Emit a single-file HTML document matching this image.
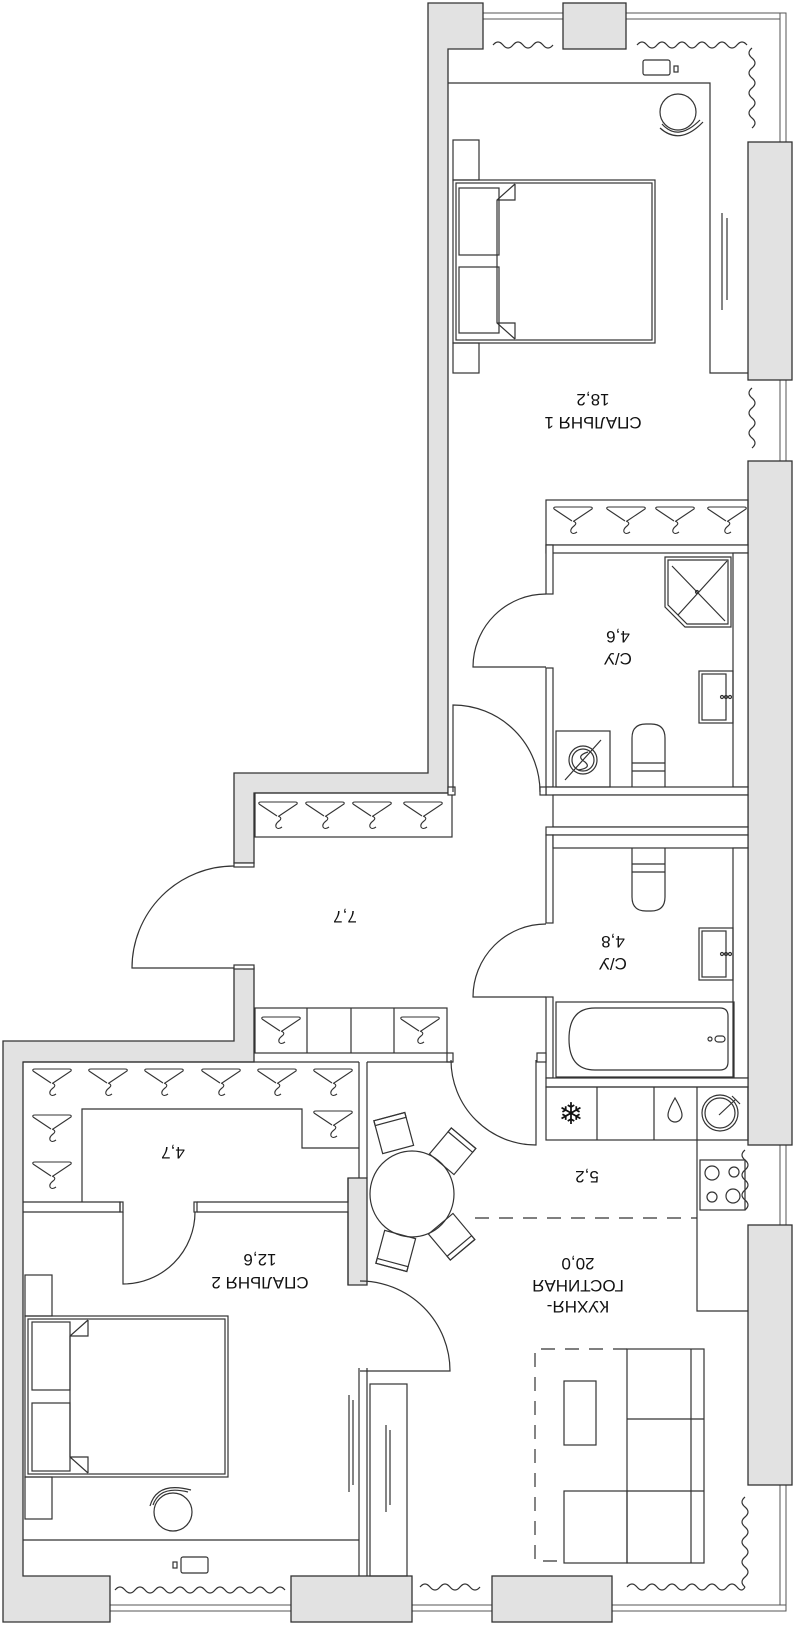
<!DOCTYPE html>
<html><head><meta charset="utf-8"><style>
html,body{margin:0;padding:0;background:#fff;}
svg{display:block;}
text{font-family:"Liberation Sans","DejaVu Sans",sans-serif;fill:#111;}
</style></head><body>
<svg width="800" height="1627" viewBox="0 0 800 1627" xmlns="http://www.w3.org/2000/svg">
<defs>
<symbol id="hg" overflow="visible">
<path d="M-19,-11 Q-20,-13 -17,-13 L17,-13 Q20,-13 19,-11 L1,1 M-19,-11 L-1,1 M0,1 Q5,3 1,6 Q-3,9 -2,12 Q0,15 4,12" fill="none" stroke="#333" stroke-width="1.1"/>
</symbol>
</defs>
<g fill="none" stroke="#333" stroke-width="1.2">

<!-- windows -->
<g fill="#fff" stroke="#555" stroke-width="1">
<rect x="483" y="13" width="80" height="6"/>
<rect x="626" y="13" width="160" height="6"/>
<rect x="780" y="13" width="6" height="130"/>
<rect x="780" y="380" width="6" height="81"/>
<rect x="780" y="1145" width="6" height="80"/>
<rect x="780" y="1485" width="6" height="126"/>
<rect x="110" y="1605" width="181" height="6"/>
<rect x="412" y="1605" width="80" height="6"/>
<rect x="612" y="1605" width="174" height="6"/>
</g>

<!-- gray walls -->
<g fill="#e2e2e2" stroke="#333" stroke-width="1.3">
<path d="M428,3 H483 V49 H448 V793 H254 V863 H234 V773 H428 Z"/>
<path d="M234,968 H254 V1062 H23 V1576 H110 V1622 H3 V1041 H234 Z"/>
<rect x="291" y="1576" width="121" height="46"/>
<rect x="492" y="1576" width="120" height="46"/>
<rect x="563" y="3" width="63" height="46"/>
<rect x="748" y="142" width="44" height="238"/>
<rect x="748" y="461" width="44" height="684"/>
<rect x="748" y="1225" width="44" height="260"/>
<path d="M348,1178 H367 V1285 H348 Z"/>
</g>

<!-- bedroom 1 -->
<path d="M448,83 H710 V373 H748"/>
<rect x="643" y="60" width="27" height="15" rx="2"/>
<rect x="674" y="66" width="4" height="6"/>
<circle cx="678" cy="112" r="18"/>
<path d="M662,124 Q678,142 700,120"/>
<path d="M660,128 Q680,146 703,122"/>
<line x1="722" y1="213" x2="722" y2="310"/><line x1="727" y1="218" x2="727" y2="300"/>
<rect x="453" y="140" width="26" height="40"/>
<rect x="453" y="343" width="26" height="30"/>
<rect x="453" y="180" width="202" height="163"/>
<rect x="456" y="183" width="196" height="157"/>
<rect x="459" y="188" width="40" height="67"/>
<rect x="459" y="267" width="40" height="66"/>
<path d="M515,184 L497,200 V323 L515,339 M515,184 V200 H497 M515,339 V323 H497"/>

<!-- bedroom1 curtains -->
<path d="M493,45 q5,-6 10,0 t10,0 t10,0 t10,0 t10,0 t10,0"/>
<path d="M637,45 q5,-6 10,0 t10,0 t10,0 t10,0 t10,0 t10,0 t10,0 t10,0 t10,0 t10,0 t10,0"/>
<path d="M752,48 q-6,5 0,10 t0,10 t0,10 t0,10 t0,10 t0,10 t0,10 t0,10"/>
<path d="M752,388 q-6,5 0,10 t0,10 t0,10 t0,10 t0,10 t0,10"/>

<!-- wardrobe above bath1 -->
<rect x="546" y="500" width="202" height="45"/>
<use href="#hg" x="573" y="520"/><use href="#hg" x="626" y="520"/><use href="#hg" x="675" y="520"/><use href="#hg" x="727" y="520"/>

<!-- bath walls -->
<g fill="#fff">
<rect x="546" y="545" width="202" height="8"/>
<rect x="546" y="545" width="7" height="49"/>
<rect x="546" y="668" width="7" height="119"/>
<rect x="733" y="553" width="15" height="234"/>
<rect x="546" y="787" width="202" height="8"/>
<rect x="553" y="795" width="195" height="32"/>
<rect x="546" y="827" width="202" height="8"/>
<rect x="546" y="835" width="7" height="88"/>
<rect x="546" y="997" width="7" height="81"/>
<rect x="553" y="835" width="195" height="13"/>
<rect x="733" y="848" width="15" height="230"/>
<rect x="546" y="1078" width="202" height="9"/>
</g>

<!-- bath1 fixtures -->
<path d="M665,557 H731 V627 H685 L665,607 Z"/>
<path d="M668,560 H728 V624 H687 L668,605 Z"/>
<path d="M672,566 L725,621 M727,561 L678,615"/>
<circle cx="697" cy="592" r="1.5"/>
<rect x="699" y="671" width="34" height="52"/>
<rect x="702" y="674" width="24" height="46"/>
<circle cx="722" cy="697" r="1.5"/><circle cx="726" cy="697" r="1.5"/><circle cx="730" cy="697" r="1.5"/>
<path d="M632,787 V738 Q632,724 646,724 H651 Q665,724 665,738 V787 M632,763 H665 M632,771 H665"/>
<rect x="556" y="731" width="54" height="56"/>
<circle cx="583" cy="760" r="14"/><circle cx="583" cy="760" r="11"/>
<path d="M565,780 L601,740 M588,752 Q575,756 585,762 Q592,768 578,770"/>

<!-- bath2 fixtures -->
<path d="M632,848 V897 Q632,911 646,911 H651 Q665,911 665,897 V848 M632,864 H665 M632,872 H665"/>
<rect x="699" y="928" width="34" height="52"/>
<rect x="702" y="931" width="24" height="46"/>
<circle cx="722" cy="954" r="1.5"/><circle cx="726" cy="954" r="1.5"/><circle cx="730" cy="954" r="1.5"/>
<rect x="556" y="1002" width="178" height="75"/>
<path d="M595,1008 H720 Q728,1008 728,1016 V1062 Q728,1070 720,1070 H595 Q569,1070 569,1039 Q569,1008 595,1008 Z"/>
<circle cx="710" cy="1039" r="2"/><rect x="715" y="1036" width="10" height="6" rx="3"/>

<!-- hallway wardrobes -->
<rect x="255" y="793" width="197" height="44"/>
<use href="#hg" x="278" y="815"/><use href="#hg" x="325" y="815"/><use href="#hg" x="372" y="815"/><use href="#hg" x="423" y="815"/>
<rect x="255" y="1008" width="192" height="45"/>
<path d="M307,1008 V1053 M351,1008 V1053 M394,1008 V1053"/>
<use href="#hg" x="281" y="1030"/><use href="#hg" x="420" y="1030"/>
<rect x="447" y="1053" width="6" height="9" fill="#fff"/>
<rect x="537" y="1053" width="9" height="9" fill="#fff"/>
<rect x="540" y="787" width="6" height="8" fill="#fff"/>
<rect x="448" y="787" width="7" height="8" fill="#fff"/>
<rect x="234" y="863" width="20" height="4" fill="#fff"/>
<rect x="234" y="965" width="20" height="4" fill="#fff"/>

<!-- doors -->
<path d="M234,968 H132 A102,102 0 0 1 234,866"/>
<path d="M453,792 V705 A87,87 0 0 1 540,792"/>
<path d="M546,667 H473 A73,73 0 0 1 546,594"/>
<path d="M546,997 H473 A73,73 0 0 1 546,924"/>
<path d="M536,1060 V1145 A85,85 0 0 1 451,1060"/>
<path d="M123,1212 V1284 A72,72 0 0 0 195,1212"/>
<path d="M360,1371 H450 A90,90 0 0 0 360,1281"/>

<!-- closet 4,7 -->
<path d="M23,1062 H359 M359,1062 V1178 M367,1062 V1178 M367,1062 H453"/>
<path d="M82,1202 V1109 H302 V1148 H359"/>
<path d="M23,1202 H120 V1212 H23 M197,1202 H348 V1178 M197,1212 H348 V1285"/>
<rect x="120" y="1202" width="3" height="10"/><rect x="194" y="1202" width="3" height="10"/>
<use href="#hg" x="52" y="1082"/><use href="#hg" x="108" y="1082"/><use href="#hg" x="164" y="1082"/><use href="#hg" x="221" y="1082"/><use href="#hg" x="277" y="1082"/><use href="#hg" x="333" y="1082"/>
<use href="#hg" x="52" y="1128"/><use href="#hg" x="52" y="1175"/><use href="#hg" x="333" y="1124"/>

<!-- bedroom 2 -->
<rect x="25" y="1275" width="27" height="41"/>
<rect x="25" y="1477" width="27" height="42"/>
<rect x="25" y="1316" width="203" height="161"/>
<rect x="28" y="1319" width="197" height="155"/>
<rect x="32" y="1322" width="38" height="68"/>
<rect x="32" y="1403" width="38" height="68"/>
<path d="M88,1320 L70,1336 V1457 L88,1473 M88,1320 V1336 H70 M88,1473 V1457 H70"/>
<circle cx="173" cy="1512" r="19"/>
<path d="M153,1505 Q160,1485 188,1492"/>
<path d="M150,1506 Q157,1481 191,1490"/>
<path d="M23,1540 H359"/>
<rect x="181" y="1557" width="27" height="16" rx="2"/>
<rect x="173" y="1562" width="4" height="6"/>
<path d="M359,1368 V1576 M367,1368 V1576"/>
<rect x="370" y="1384" width="37" height="192"/>
<line x1="349" y1="1395" x2="349" y2="1492"/><line x1="353" y1="1400" x2="353" y2="1485"/>
<line x1="386" y1="1425" x2="386" y2="1512"/><line x1="390" y1="1430" x2="390" y2="1505"/>
<path d="M115,1590 q5,-6 10,0 t10,0 t10,0 t10,0 t10,0 t10,0 t10,0 t10,0 t10,0 t10,0 t10,0 t10,0 t10,0 t10,0 t10,0 t10,0 t10,0"/>

<!-- kitchen -->
<rect x="546" y="1087" width="202" height="53"/>
<path d="M597,1087 V1140 M654,1087 V1140 M697,1087 V1140"/>
<path d="M697,1140 V1311 H748"/>
<rect x="700" y="1160" width="45" height="50"/>
<circle cx="712" cy="1173" r="7"/><circle cx="734" cy="1172" r="5"/><circle cx="712" cy="1197" r="5"/><circle cx="733" cy="1196" r="7"/>
<circle cx="720" cy="1113" r="18"/><circle cx="720" cy="1113" r="15"/>
<path d="M719,1115 L736,1099 M732,1096 L740,1104"/>
<path d="M675,1098 Q668,1110 668,1115 A7,7 0 0 0 682,1115 Q682,1110 675,1098 Z"/>
<path d="M745,1150 q-6,5 0,10 t0,10 t0,10 t0,10 t0,10 t0,10"/>
<path d="M475,1218 H697" stroke-dasharray="14,10"/>

<!-- dining -->
<ellipse cx="412" cy="1194" rx="42" ry="43"/>
<g transform="translate(394,1134) rotate(-15)"><rect x="-16" y="-18" width="32" height="34"/><rect x="-16" y="-18" width="32" height="5"/></g>
<g transform="translate(452,1152) rotate(40)"><rect x="-16" y="-18" width="32" height="34"/><rect x="-16" y="-18" width="32" height="5"/></g>
<g transform="translate(451,1236) rotate(140)"><rect x="-16" y="-18" width="32" height="34"/><rect x="-16" y="-18" width="32" height="5"/></g>
<g transform="translate(396,1250) rotate(195)"><rect x="-16" y="-18" width="32" height="34"/><rect x="-16" y="-18" width="32" height="5"/></g>

<!-- living -->
<path d="M627,1349 H535 V1561 H560" stroke-dasharray="14,10"/>
<rect x="627" y="1349" width="77" height="214"/>
<path d="M691,1349 V1563 M627,1419 H704 M627,1491 H704"/>
<rect x="564" y="1491" width="63" height="72"/>
<rect x="564" y="1381" width="32" height="64"/>
<path d="M745,1497 q-6,5 0,10 t0,10 t0,10 t0,10 t0,10 t0,10 t0,10 t0,10 t0,10"/>
<path d="M627,1587 q5,-6 10,0 t10,0 t10,0 t10,0 t10,0 t10,0 t10,0 t10,0 t10,0 t10,0 t10,0 t8,0"/>
<path d="M420,1587 q5,-6 10,0 t10,0 t10,0 t10,0 t10,0 t10,0"/>
</g>

<!-- snowflake -->
<text x="571" y="1124" font-size="30" text-anchor="middle" style="font-family:'DejaVu Sans',sans-serif">❄</text>

<!-- labels (rotated 180) -->
<g font-size="17" text-anchor="middle">
<text transform="translate(593,410) rotate(180)"><tspan x="0" y="-7">СПАЛЬНЯ 1</tspan><tspan x="0" y="16">18,2</tspan></text>
<text transform="translate(618,648) rotate(180)"><tspan x="0" y="-5">С/У</tspan><tspan x="0" y="17">4,6</tspan></text>
<text transform="translate(613,953) rotate(180)"><tspan x="0" y="-5">С/У</tspan><tspan x="0" y="17">4,8</tspan></text>
<text transform="translate(345,917) rotate(180)" y="6">7,7</text>
<text transform="translate(173,1153) rotate(180)" y="6">4,7</text>
<text transform="translate(587,1177) rotate(180)" y="6">5,2</text>
<text transform="translate(260,1270) rotate(180)"><tspan x="0" y="-7">СПАЛЬНЯ 2</tspan><tspan x="0" y="16">12,6</tspan></text>
<text transform="translate(578,1285) rotate(180)"><tspan x="0" y="-16">КУХНЯ-</tspan><tspan x="0" y="5">ГОСТИНАЯ</tspan><tspan x="0" y="27">20,0</tspan></text>
</g>
</svg>
</body></html>
